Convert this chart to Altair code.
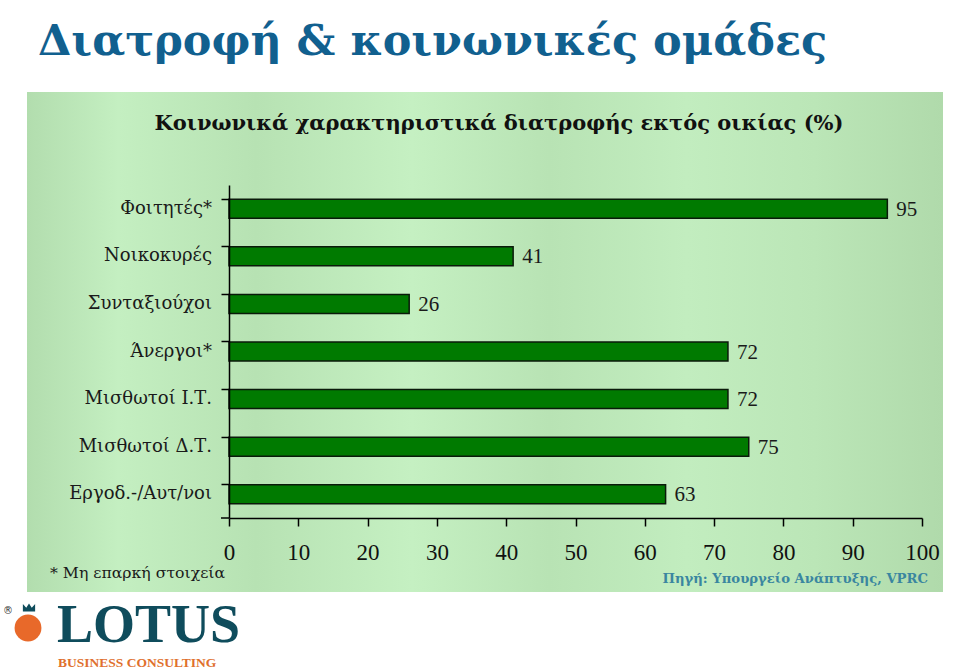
import altair as alt
import pandas as pd

categories = ["Φοιτητές*", "Νοικοκυρές", "Συνταξιούχοι", "Άνεργοι*",
              "Μισθωτοί Ι.Τ.", "Μισθωτοί Δ.Τ.", "Εργοδ.-/Αυτ/νοι"]
values = [95, 41, 26, 72, 72, 75, 63]
x_ticks = [0, 10, 20, 30, 40, 50, 60, 70, 80, 90, 100]

title_text = "Διατροφή & κοινωνικές ομάδες"
subtitle_text = "Κοινωνικά χαρακτηριστικά διατροφής εκτός οικίας (%)"
footnote_text = "* Μη επαρκή στοιχεία"
source_text = "Πηγή: Υπουργείο Ανάπτυξης, VPRC"

df = pd.DataFrame({"cat": categories, "val": values})
one = alt.Data(values=[{"a": 1}])

SERIF = "Liberation Serif"
GSERIF = "DejaVu Serif"

# plot origin at (229,185) in page pixels
OX, OY = 229, 185
W, H = 693, 333

def px(x):
    return x - OX

def py(y):
    return y - OY

panel = alt.Chart(one).mark_rect(
    color=alt.Gradient(
        gradient="linear", x1=0, x2=1, y1=0, y2=0,
        stops=[
            alt.GradientStop(color="#b2ddae", offset=0),
            alt.GradientStop(color="#c4efc1", offset=0.1),
            alt.GradientStop(color="#b7e2b3", offset=0.25),
            alt.GradientStop(color="#c5f0c2", offset=0.42),
            alt.GradientStop(color="#b8e3b4", offset=0.57),
            alt.GradientStop(color="#c2edbf", offset=0.72),
            alt.GradientStop(color="#bbe6b7", offset=0.86),
            alt.GradientStop(color="#b0daab", offset=1),
        ],
    )
).encode(
    x=alt.value(px(27)), x2=alt.value(px(943)),
    y=alt.value(py(92)), y2=alt.value(py(592)),
)

y_enc = alt.Y(
    "cat:N", sort=categories, title=None,
    scale=alt.Scale(paddingInner=0.6, paddingOuter=0.3),
    axis=alt.Axis(labels=False, ticks=True, bandPosition=0, tickSize=8,
                  tickColor="black", tickWidth=1.5,
                  domainColor="black", domainWidth=1.5, zindex=2),
)

x_enc = alt.X(
    "val:Q", title=None,
    scale=alt.Scale(domain=[0, 100], nice=False),
    axis=alt.Axis(values=x_ticks, grid=False, domainColor="black", domainWidth=1.5,
                  tickColor="black", tickWidth=1.5, tickSize=8, labelFlush=False,
                  labelFont=SERIF, labelFontSize=23, labelColor="#111111",
                  labelPadding=15, zindex=2),
)

bars = alt.Chart(df).mark_bar(color="#007a00", stroke="#0a1a0a", strokeWidth=1.5).encode(
    x=x_enc, y=y_enc
)

cat_labels = alt.Chart(df).mark_text(align="right", baseline="middle", dy=0,
                                     font=GSERIF, fontSize=18, color="#1a1a1a").encode(
    x=alt.value(-17), y=alt.Y("cat:N", sort=categories), text="cat:N"
)

labels = alt.Chart(df).mark_text(align="left", baseline="middle", dx=9, dy=1,
                                 font=SERIF, fontSize=21, color="#1a1a1a").encode(
    x="val:Q", y=alt.Y("cat:N", sort=categories), text="val:Q"
)

tick_bottom = alt.Chart(one).mark_rule(color="black", strokeWidth=1.5).encode(
    y=alt.value(H), x=alt.value(-8), x2=alt.value(0),
)

def text_layer(txt, x, y, **kw):
    return alt.Chart(one).mark_text(text=txt, **kw).encode(
        x=alt.value(px(x)), y=alt.value(py(y))
    )

title = text_layer(title_text, 38, 55, align="left", baseline="alphabetic",
                   font=GSERIF, fontSize=43, fontWeight="bold", color="#11608f")
subtitle = text_layer(subtitle_text, 499, 130, align="center", baseline="alphabetic",
                      font=GSERIF, fontSize=21, fontWeight="bold", color="#111111")
footnote = text_layer(footnote_text, 50, 578, align="left", baseline="alphabetic",
                      font=GSERIF, fontSize=15.7, color="#1a1a1a")
source = text_layer(source_text, 928, 583, align="right", baseline="alphabetic",
                    font=GSERIF, fontSize=13.2, fontWeight="bold", color="#3a86a0")

logo_circle = alt.Chart(one).mark_point(filled=True, shape="circle", size=720,
                                        color="#e8692a", opacity=1).encode(
    x=alt.value(px(28)), y=alt.value(py(628))
)
logo_crown = alt.Chart(one).mark_point(
    filled=True, opacity=1, color="#0f4c5c", size=150,
    shape="M-1,0.4 L-1,-0.8 L-0.45,-0.2 L0,-0.9 L0.45,-0.2 L1,-0.8 L1,0.4 Z",
).encode(x=alt.value(px(29)), y=alt.value(py(609)))
logo_r = text_layer("®", 8, 614, align="center", baseline="alphabetic",
                    font="DejaVu Sans", fontSize=10, color="#333333")
logo_text = text_layer("LOTUS", 57, 642, align="left", baseline="alphabetic",
                       font=SERIF, fontSize=54, fontWeight="bold", color="#0f4c5c")
logo_sub = text_layer("BUSINESS CONSULTING", 58, 667, align="left", baseline="alphabetic",
                      font=SERIF, fontSize=13.5, fontWeight="bold", color="#e0702e")

chart = alt.layer(
    panel, bars, cat_labels, labels, tick_bottom,
    title, subtitle, footnote, source,
    logo_circle, logo_crown, logo_r, logo_text, logo_sub,
).properties(
    width=W, height=H,
    autosize=alt.AutoSizeParams(type="none"),
    padding={"left": OX, "top": OY, "right": 960 - OX - W, "bottom": 672 - OY - H},
    background="white",
).configure_view(stroke=None)

chart.save("out.html", embed_options={"renderer": "svg", "actions": False})
